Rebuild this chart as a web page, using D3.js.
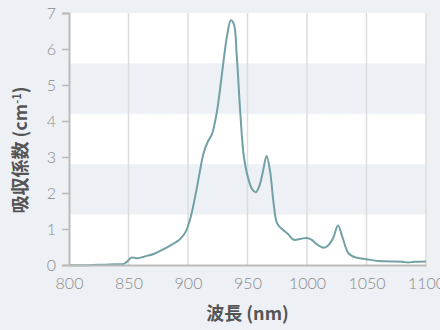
<!doctype html>
<html lang="ja">
<head>
  <meta charset="utf-8">
  <title>吸収スペクトル</title>
  <script src="https://cdn.jsdelivr.net/npm/d3@7"></script>
  <style>
    body { margin: 0; background: #edf1f5; }
    svg { display: block; }
    text { font-family: Lato, "Noto Sans CJK JP", sans-serif; }
  </style>
</head>
<body>
  <div id="chart"></div>
  <script>
    const LINE = "#72a1a5";
    const BAND = "#edf1f5";
    const GRID = "#dcdcdc";
    const AXIS = "#bbbbbb";
    const TICK_TEXT = "#8a8a8a";
    const LABEL = "#555555";

    // spectrum
    const wavelengths = [800, 810, 820, 830, 840, 846, 849, 852, 855, 858, 862, 866, 870,
      877, 885, 893, 898, 902, 906, 910, 913, 917, 920, 924, 927, 930, 933, 936, 938.5,
      941, 944, 947, 951, 954, 957, 960, 963, 966, 969, 972, 975, 980, 984, 989, 995,
      1000, 1004, 1008, 1014, 1018, 1022, 1026, 1030, 1035, 1042, 1050, 1060, 1070,
      1080, 1085, 1090, 1100];
    const absorption = [0.0, -0.01, 0.0, 0.01, 0.02, 0.03, 0.1, 0.2, 0.2, 0.19, 0.22, 0.26, 0.29,
      0.4, 0.54, 0.71, 0.92, 1.3, 1.9, 2.6, 3.1, 3.45, 3.62, 4.2, 4.9, 5.7, 6.4, 6.8, 6.7,
      5.8, 4.2, 3.0, 2.36, 2.1, 2.02, 2.2, 2.6, 3.03, 2.6, 1.7, 1.15, 0.97, 0.86, 0.7, 0.73,
      0.75, 0.7, 0.58, 0.48, 0.55, 0.75, 1.1, 0.75, 0.32, 0.2, 0.16, 0.11, 0.1,
      0.09, 0.07, 0.09, 0.1];
    const xTicks = [800, 850, 900, 950, 1000, 1050, 1100];
    const yTicks = [0, 1, 2, 3, 4, 5, 6, 7];
    const bandEdges = [0, 1.4, 2.8, 4.2, 5.6, 7];

    const w = 440;
    const h = 330;
    const margin = { top: 13, right: 14, bottom: 65, left: 69 };

    const data = wavelengths.map((x, i) => ({ x, y: absorption[i] }));

    const xScale = d3.scaleLinear()
      .domain([800, 1100])
      .range([margin.left, w - margin.right]);
    const yScale = d3.scaleLinear()
      .domain([0, 7])
      .range([h - margin.bottom, margin.top]);

    const svg = d3.select("#chart")
      .append("svg")
      .attr("width", w)
      .attr("height", h);

    // plot area
    svg.append("rect")
      .attr("x", xScale(800))
      .attr("y", yScale(7))
      .attr("width", xScale(1100) - xScale(800))
      .attr("height", yScale(0) - yScale(7))
      .style("fill", "#fff");

    // alternating bands, shaded ones are 2nd and 4th from the bottom
    d3.range(bandEdges.length - 1).filter(i => i % 2 === 1).forEach(i => {
      svg.append("rect")
        .attr("x", xScale(800))
        .attr("y", yScale(bandEdges[i + 1]))
        .attr("width", xScale(1100) - xScale(800))
        .attr("height", yScale(bandEdges[i]) - yScale(bandEdges[i + 1]))
        .style("fill", BAND);
    });

    // vertical grid
    svg.append("g")
      .selectAll("line")
      .data(xTicks.slice(1))
      .join("line")
      .attr("x1", d => xScale(d))
      .attr("x2", d => xScale(d))
      .attr("y1", yScale(7))
      .attr("y2", yScale(0))
      .style("stroke", GRID)
      .style("stroke-width", 1.5);

    // spectrum
    const line = d3.line()
      .x(d => xScale(d.x))
      .y(d => yScale(d.y))
      .curve(d3.curveCatmullRom.alpha(0.5));

    svg.append("path")
      .datum(data)
      .style("fill", "none")
      .style("stroke", LINE)
      .style("stroke-width", 2)
      .attr("d", line);

    // axes
    const xAxis = d3.axisBottom(xScale).tickValues(xTicks).tickFormat(d3.format("d"))
      .tickSize(0).tickPadding(13);
    const yAxis = d3.axisLeft(yScale).tickValues(yTicks).tickFormat(d3.format("d"))
      .tickSize(7).tickPadding(6);

    const gx = svg.append("g")
      .attr("transform", `translate(0, ${yScale(0)})`)
      .call(xAxis);
    const gy = svg.append("g")
      .attr("transform", `translate(${xScale(800)}, 0)`)
      .call(yAxis);

    [gx, gy].forEach(g => {
      g.select(".domain").style("stroke", AXIS).style("stroke-width", 2);
      g.selectAll(".tick line").style("stroke", AXIS).style("stroke-width", 1.5);
      g.selectAll(".tick text")
        .style("fill", TICK_TEXT)
        .style("font-size", "16px")
        .style("font-weight", 300)
        .style("font-family", "Lato, sans-serif");
    });

    // labels
    svg.append("text")
      .attr("x", (xScale(800) + xScale(1100)) / 2)
      .attr("y", 320)
      .style("text-anchor", "middle")
      .style("fill", LABEL)
      .style("font-weight", "bold")
      .style("font-size", "18px")
      .style("font-family", "'Noto Sans CJK JP', sans-serif")
      .text("波長 (nm)");

    const yLabel = svg.append("text")
      .attr("transform", `translate(27, 150) rotate(-90)`)
      .style("text-anchor", "middle")
      .style("fill", LABEL)
      .style("font-weight", "bold")
      .style("font-size", "18px")
      .style("font-family", "'Noto Sans CJK JP', sans-serif");
    yLabel.append("tspan").text("吸収係数 (cm");
    yLabel.append("tspan").attr("dy", -6).style("font-size", "11px").text("-1");
    yLabel.append("tspan").attr("dy", 6).text(")");
  </script>
</body>
</html>
